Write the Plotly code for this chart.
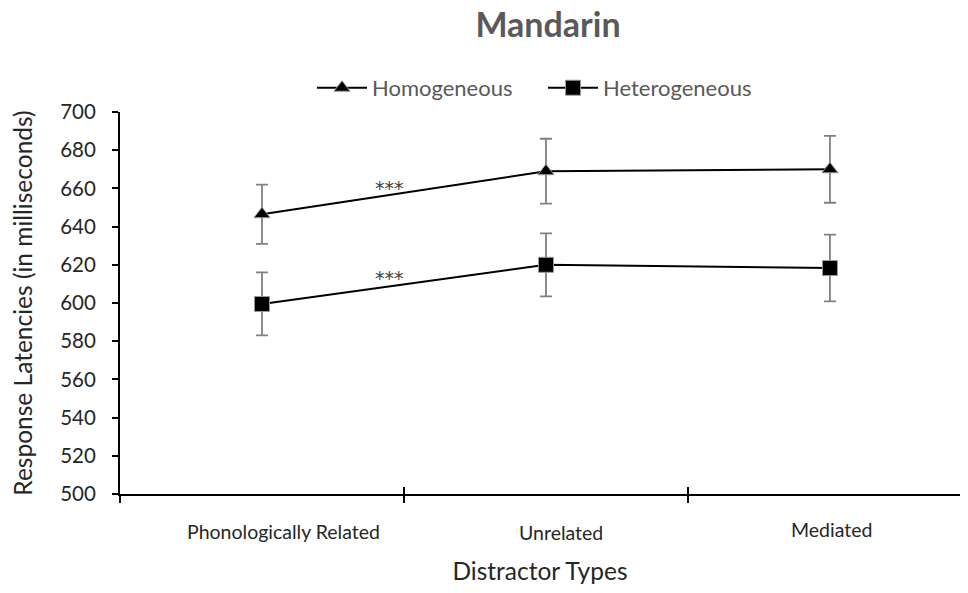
import plotly.graph_objects as go

categories = ["Phonologically Related", "Unrelated", "Mediated"]
homogeneous = [646.5, 669, 670]
homogeneous_err = [15.5, 17, 17.5]
heterogeneous = [599.5, 620, 618.3]
heterogeneous_err = [16.5, 16.5, 17.5]
y_ticks = [500, 520, 540, 560, 580, 600, 620, 640, 660, 680, 700]
sig_labels = ["***", "***"]
sig_y = [660, 613]

FONT = "Lato, Open Sans, sans-serif"
xs = list(range(len(categories)))
x_range = [-0.5, 2.458]
x_bounds = [-0.5, 0.5, 1.5, 2.5]

fig = go.Figure()
fig.add_trace(go.Scatter(
    x=xs, y=homogeneous, name="Homogeneous", mode="lines+markers",
    line=dict(color="black", width=2),
    marker=dict(symbol="triangle-up", size=14, color="black", line=dict(color="#9a9a9a", width=1)),
    error_y=dict(type="data", array=homogeneous_err, color="#808080", thickness=1.8, width=6),
))
fig.add_trace(go.Scatter(
    x=xs, y=heterogeneous, name="Heterogeneous", mode="lines+markers",
    line=dict(color="black", width=2),
    marker=dict(symbol="square", size=15, color="black", line=dict(color="#9a9a9a", width=1)),
    error_y=dict(type="data", array=heterogeneous_err, color="#808080", thickness=1.8, width=6),
))
# carrier for the second (tick-only) x axis so that its crossing ticks are drawn
fig.add_trace(go.Scatter(x=[None], y=[None], xaxis="x2", yaxis="y", showlegend=False,
                         hoverinfo="skip", mode="markers"))

# category labels (slightly staggered, as in the original)
label_dx = [0.074, 0.053, 0.007]
label_dy = [-0.097, -0.102, -0.092]
for i, c in enumerate(categories):
    fig.add_annotation(x=xs[i] + label_dx[i], y=label_dy[i], xref="x", yref="paper",
                       yanchor="middle", xanchor="center",
                       text=c, showarrow=False, font=dict(family=FONT, size=19.5, color="#262626"))

for yv, t in zip(sig_y, sig_labels):
    fig.add_annotation(x=0.45, y=yv, xref="x", yref="y", text=t, showarrow=False,
                       font=dict(family="DejaVu Sans, sans-serif", size=19, color="#404040"))

fig.update_layout(
    width=952, height=577,
    margin=dict(l=112, r=0, t=104, b=91),
    paper_bgcolor="white", plot_bgcolor="white",
    title=dict(text="<b>Mandarin</b>", x=540/952, xanchor="center", y=1 - 17/577, yanchor="middle",
               font=dict(family=FONT, size=34, color="#595959")),
    font=dict(family=FONT, color="#262626"),
    legend=dict(orientation="h", x=0.2286, xanchor="left", y=1.063, yanchor="middle",
                font=dict(family=FONT, size=22, color="#595959"), itemwidth=50,
                entrywidth=166, bgcolor="rgba(0,0,0,0)"),
    xaxis=dict(range=x_range, tickvals=x_bounds, ticktext=["", "", "", ""],
               ticks="outside", ticklen=7, tickwidth=2, tickcolor="black", automargin=False,
               showline=True, linecolor="black", linewidth=2, showgrid=False, zeroline=False,
               title=dict(text="Distractor Types", font=dict(family=FONT, size=24.5, color="#262626"),
                          standoff=70)),
    xaxis2=dict(overlaying="x", anchor="y", side="bottom", range=x_range, tickvals=x_bounds,
                showticklabels=False, ticks="inside", ticklen=7, tickwidth=2, tickcolor="black",
                showline=False, showgrid=False, zeroline=False, automargin=False),
    yaxis=dict(range=[500, 700], tickvals=y_ticks, ticks="outside", ticklen=6, tickwidth=2,
               tickcolor="black", showline=True, linecolor="black", linewidth=2,
               showgrid=False, zeroline=False, automargin=False, ticklabelstandoff=12,
               tickfont=dict(family=FONT, size=20.5, color="#262626"),
               title=dict(text="Response Latencies (in milliseconds)",
                          font=dict(family=FONT, size=24.5, color="#262626"), standoff=22)),
)

fig.write_html("out.html")
